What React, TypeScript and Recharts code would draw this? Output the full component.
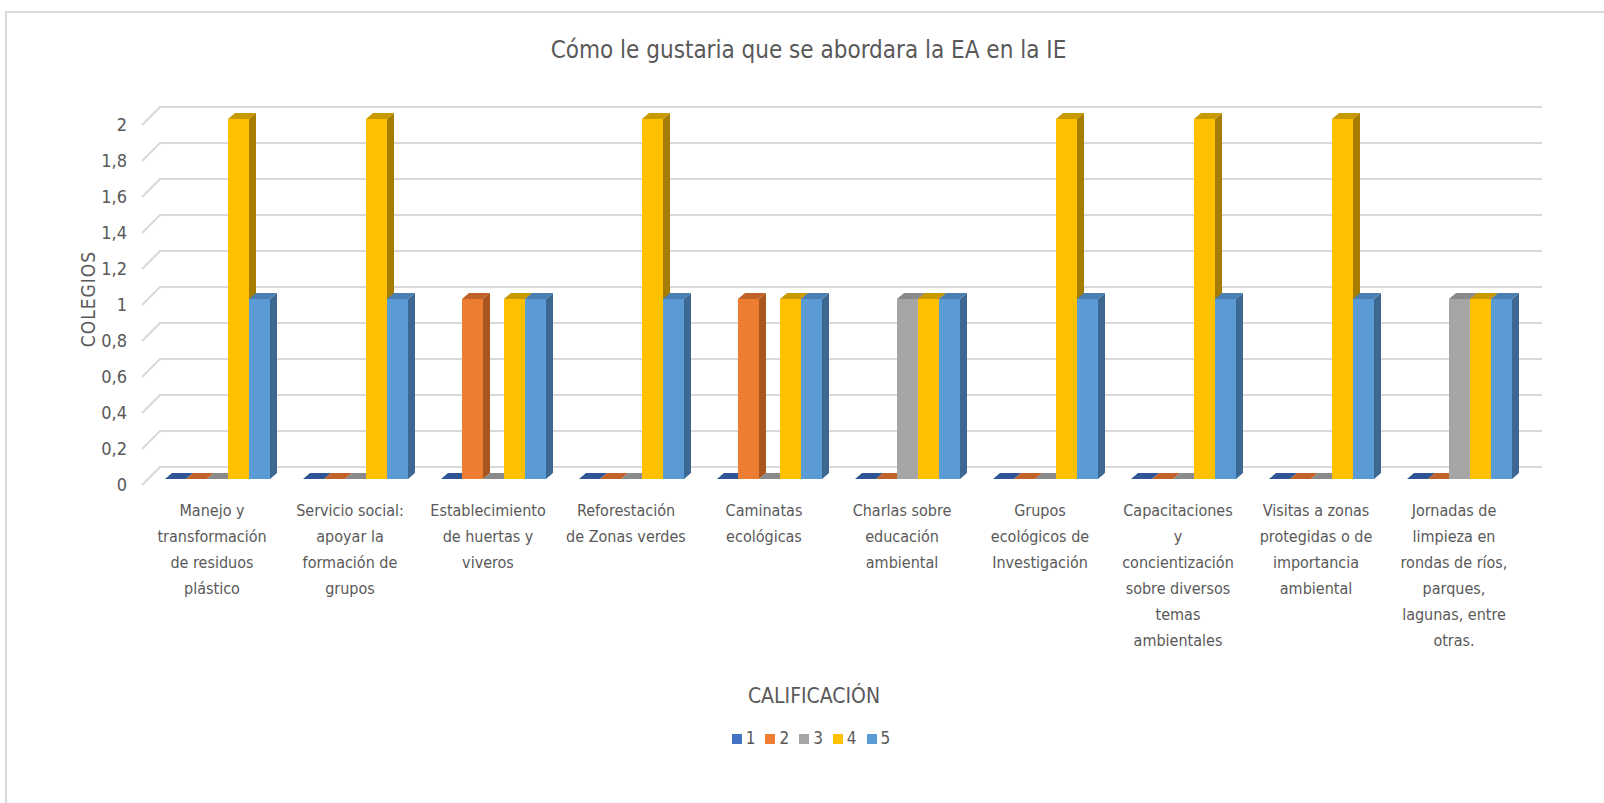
import React from 'react'
import { BarChart, Bar, XAxis, YAxis, CartesianGrid, Legend } from 'recharts'

const CATEGORIES = [
  'Manejo y transformación de residuos plástico',
  'Servicio social: apoyar la formación de grupos',
  'Establecimiento de huertas y viveros',
  'Reforestación de Zonas verdes',
  'Caminatas ecológicas',
  'Charlas sobre educación ambiental',
  'Grupos ecológicos de Investigación',
  'Capacitaciones y concientización sobre diversos temas ambientales',
  'Visitas a zonas protegidas o de importancia ambiental',
  'Jornadas de limpieza en rondas de ríos, parques, lagunas, entre otras.',
]

// how each category label wraps under the axis
const LABEL_LINES = [
  ['Manejo y', 'transformación', 'de residuos', 'plástico'],
  ['Servicio social:', 'apoyar la', 'formación de', 'grupos'],
  ['Establecimiento', 'de huertas y', 'viveros'],
  ['Reforestación', 'de Zonas verdes'],
  ['Caminatas', 'ecológicas'],
  ['Charlas sobre', 'educación', 'ambiental'],
  ['Grupos', 'ecológicos de', 'Investigación'],
  ['Capacitaciones', 'y', 'concientización', 'sobre diversos', 'temas', 'ambientales'],
  ['Visitas a zonas', 'protegidas o de', 'importancia', 'ambiental'],
  ['Jornadas de', 'limpieza en', 'rondas de ríos,', 'parques,', 'lagunas, entre', 'otras.'],
]

const SERIES_NAMES = ['1', '2', '3', '4', '5']
const CAL_1 = [0, 0, 0, 0, 0, 0, 0, 0, 0, 0]
const CAL_2 = [0, 0, 1, 0, 1, 0, 0, 0, 0, 0]
const CAL_3 = [0, 0, 0, 0, 0, 1, 0, 0, 0, 1]
const CAL_4 = [2, 2, 1, 2, 1, 1, 2, 2, 2, 1]
const CAL_5 = [1, 1, 1, 1, 1, 1, 1, 1, 1, 1]

const Y_TICKS = [0, 0.2, 0.4, 0.6, 0.8, 1, 1.2, 1.4, 1.6, 1.8, 2]

const FACE = ['#4472C4', '#ED7D31', '#A5A5A5', '#FFC000', '#5B9BD5']
const SIDE = ['#2F528F', '#A9561F', '#767676', '#A67D00', '#3D6891']
const TOP = ['#2F5597', '#C0622A', '#8A8A8A', '#C99A00', '#4A7FB3']

const data = CATEGORIES.map((name, i) => ({
  name,
  c1: CAL_1[i],
  c2: CAL_2[i],
  c3: CAL_3[i],
  c4: CAL_4[i],
  c5: CAL_5[i],
}))

const FONT = "'DejaVu Sans Condensed', 'DejaVu Sans', sans-serif"
const TEXT = '#595959'
const DEPTH_X = 7
const DEPTH_Y = 6

// fake 3D column: front, right side, top
function Bar3D(props: any) {
  const { x, y, width, height, si } = props
  const h = Math.max(height || 0, 0)
  const d = DEPTH_X
  const e = DEPTH_Y
  return (
    <g>
      {h > 0 && <rect x={x} y={y} width={width} height={h} fill={FACE[si]} />}
      {h > 0 && (
        <polygon
          points={`${x + width},${y} ${x + width + d},${y - e} ${x + width + d},${y + h - e} ${x + width},${y + h}`}
          fill={SIDE[si]}
        />
      )}
      <polygon
        points={`${x},${y} ${x + d},${y - e} ${x + width + d},${y - e} ${x + width},${y}`}
        fill={TOP[si]}
      />
    </g>
  )
}

// gridlines drawn on the back wall with a short floor diagonal
function gridLine(p: any) {
  const { x1, y1, x2, index } = p
  return (
    <path
      key={`g-${index}-${y1}`}
      d={`M${x1 - 6},${y1 + 6} L${x1 + 12},${y1 - 12} L${x2 + 14},${y1 - 12}`}
      stroke="#d9d9d9"
      strokeWidth={2}
      fill="none"
    />
  )
}

function CategoryTick({ x, y, payload }: any) {
  const idx = CATEGORIES.indexOf(payload.value)
  const lines = LABEL_LINES[idx] || [payload.value]
  return (
    <text x={x - 5} y={y} textAnchor="middle" fill={TEXT} fontSize={16}>
      {lines.map((l, i) => (
        <tspan key={i} x={x - 5} dy={i === 0 ? 29 : 26}>
          {l}
        </tspan>
      ))}
    </text>
  )
}

function ValueTick({ x, y, payload }: any) {
  return (
    <text x={x - 13} y={y + 5} textAnchor="end" dominantBaseline="central" fill={TEXT} fontSize={18}>
      {String(payload.value).replace('.', ',')}
    </text>
  )
}

export default function App() {
  const keys = ['c1', 'c2', 'c3', 'c4', 'c5']
  return (
    <div style={{ position: 'absolute', left: 0, top: 0, width: 1604, height: 803, background: '#fff', fontFamily: FONT }}>
      {/* outer chart frame */}
      <div
        style={{
          position: 'absolute',
          left: 5,
          top: 11,
          right: 0,
          bottom: 0,
          borderLeft: '2px solid #d9d9d9',
          borderTop: '2px solid #d9d9d9',
        }}
      />
      <div
        style={{
          position: 'absolute',
          left: 16,
          top: 36,
          width: 1585,
          textAlign: 'center',
          fontSize: 24,
          color: TEXT,
        }}
      >
        Cómo le gustaria que se abordara la EA en la IE
      </div>
      <div style={{ position: 'absolute', left: 0, top: 0 }}>
        <BarChart
          width={1604}
          height={803}
          data={data}
          margin={{ top: 119, right: 76, bottom: 124, left: 88 }}
          barCategoryGap={17}
          barGap={0}
        >
          <CartesianGrid vertical={false} horizontal={gridLine} />
          <XAxis
            dataKey="name"
            axisLine={false}
            tickLine={false}
            interval={0}
            height={200}
            tick={<CategoryTick />}
            label={{ value: 'CALIFICACIÓN', position: 'bottom', offset: 9, dx: -24, fill: TEXT, fontSize: 21 }}
          />
          <YAxis
            domain={[0, 2]}
            ticks={Y_TICKS}
            axisLine={false}
            tickLine={false}
            width={60}
            tick={<ValueTick />}
            label={{ value: 'COLEGIOS', angle: -90, position: 'center', dx: -30, fill: TEXT, fontSize: 19, letterSpacing: 1 }}
          />
          <Legend
            verticalAlign="middle"
            align="center"
            layout="horizontal"
            iconType="square"
            iconSize={10}
            wrapperStyle={{ top: 728, left: 14, width: 1604, fontSize: 17 }}
            formatter={(v: any) => <span style={{ color: TEXT }}>{v}</span>}
          />
          {keys.map((k, i) => (
            <Bar
              key={k}
              dataKey={k}
              name={SERIES_NAMES[i]}
              fill={FACE[i]}
              isAnimationActive={false}
              shape={(p: any) => <Bar3D {...p} si={i} />}
            />
          ))}
        </BarChart>
      </div>
    </div>
  )
}
